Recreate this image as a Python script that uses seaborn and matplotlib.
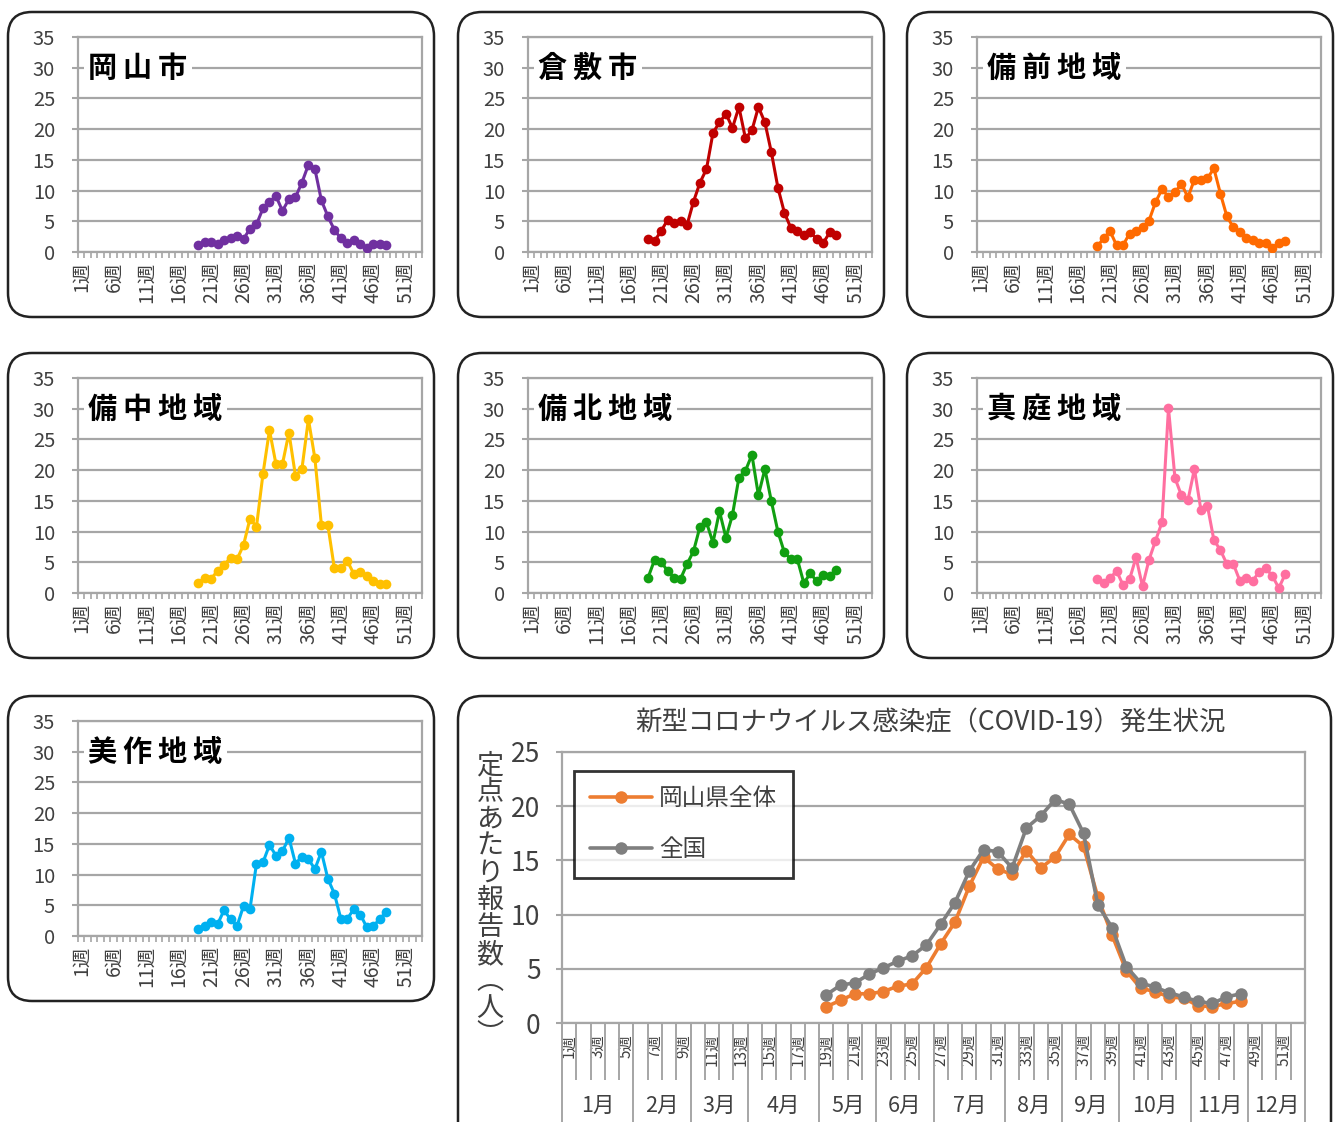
import matplotlib
matplotlib.use("Agg")
import matplotlib.pyplot as plt
from matplotlib.patches import FancyBboxPatch
import seaborn as sns
import pandas as pd
import numpy as np

# weekly values (per sentinel site), weeks 19-48
weeks = list(range(19, 49))

okayama_city = [1.1, 1.6, 1.6, 1.3, 2.0, 2.2, 2.6, 2.1, 3.8, 4.5, 7.1, 8.2, 9.1, 6.7, 8.6,
                8.9, 11.3, 14.2, 13.5, 8.4, 5.8, 3.6, 2.2, 1.5, 1.9, 1.3, 0.7, 1.3, 1.3, 1.1]
kurashiki = [2.1, 1.8, 3.4, 5.2, 4.8, 5.1, 4.4, 8.2, 11.3, 13.5, 19.4, 21.1, 22.5, 20.2, 23.6,
             18.5, 19.8, 23.6, 21.1, 16.2, 10.5, 6.4, 3.9, 3.4, 2.7, 3.2, 2.1, 1.5, 3.2, 2.8]
bizen = [0.9, 2.2, 3.4, 1.1, 1.1, 3.0, 3.4, 4.0, 5.1, 8.1, 10.2, 9.0, 9.7, 11.1, 8.9,
         11.8, 11.8, 12.0, 13.6, 9.5, 5.8, 4.0, 3.3, 2.3, 2.0, 1.5, 1.5, 0.7, 1.5, 1.8]
bicchu = [1.6, 2.5, 2.3, 3.6, 4.6, 5.7, 5.5, 7.8, 12.1, 10.8, 19.4, 26.5, 21.0, 21.0, 26.1,
          19.1, 20.2, 28.3, 21.9, 11.1, 11.0, 4.0, 4.0, 5.2, 3.1, 3.5, 2.7, 1.9, 1.5, 1.5]
bihoku = [2.5, 5.4, 5.1, 3.6, 2.5, 2.3, 4.7, 6.8, 10.8, 11.5, 8.2, 13.3, 9.0, 12.7, 18.8,
          19.9, 22.5, 15.9, 20.2, 14.9, 10.0, 6.6, 5.5, 5.5, 1.6, 3.2, 1.9, 3.0, 2.8, 3.8]
maniwa = [2.2, 1.7, 2.4, 3.6, 1.3, 2.2, 5.8, 1.1, 5.4, 8.5, 11.5, 30.1, 18.7, 15.9, 15.1,
          20.2, 13.5, 14.2, 8.6, 7.0, 4.7, 4.7, 2.0, 2.5, 2.0, 3.5, 4.0, 2.8, 0.8, 3.1]
mimasaka = [1.2, 1.7, 2.3, 1.9, 4.2, 2.7, 1.6, 4.9, 4.4, 11.8, 12.0, 14.8, 13.1, 13.8, 16.0,
            11.8, 12.9, 12.5, 10.9, 13.7, 9.3, 6.9, 2.8, 2.8, 4.4, 3.5, 1.4, 1.6, 2.8, 3.9]

pref_total = [1.5, 2.1, 2.7, 2.7, 2.9, 3.4, 3.6, 5.1, 7.3, 9.3, 12.6, 15.3, 14.2, 13.7, 15.9,
              14.3, 15.3, 17.4, 16.3, 11.6, 8.1, 4.8, 3.2, 2.9, 2.4, 2.3, 1.6, 1.5, 1.8, 2.0]
national = [2.6, 3.5, 3.7, 4.5, 5.1, 5.7, 6.2, 7.2, 9.1, 11.1, 14.0, 16.0, 15.8, 14.3, 18.0,
            19.1, 20.6, 20.2, 17.5, 10.9, 8.8, 5.2, 3.7, 3.3, 2.8, 2.4, 2.0, 1.8, 2.4, 2.7]

region_names = ["岡山市", "倉敷市", "備前地域", "備中地域", "備北地域", "真庭地域", "美作地域"]
region_values = [okayama_city, kurashiki, bizen, bicchu, bihoku, maniwa, mimasaka]
region_colors = ["#7030A0", "#C00000", "#FF6A00", "#FFC000", "#119F11", "#FF6FA0", "#00B0F0"]

month_names = ["1月", "2月", "3月", "4月", "5月", "6月", "7月", "8月", "9月", "10月", "11月", "12月"]
month_weeks = [5, 4, 4, 5, 4, 4, 5, 4, 4, 5, 4, 4]

sns.set_style("white")
plt.rcParams["font.family"] = ["Noto Sans CJK JP", "DejaVu Sans"]

W, H = 1341, 1122
fig = plt.figure(figsize=(W / 100, H / 100), dpi=100)
grid_c = "#a6a6a6"
txt_c = "#404040"

# background layer in pixel coords for the rounded panels
bg = fig.add_axes([0, 0, 1, 1], zorder=-1)
bg.set_xlim(0, W)
bg.set_ylim(H, 0)
bg.axis("off")


def panel_box(x0, y0, x1, y1, r=24):
    bg.add_patch(FancyBboxPatch((x0 + r, y0 + r), x1 - x0 - 2 * r, y1 - y0 - 2 * r,
                                boxstyle=f"round,pad={r}", fc="white", ec="#222222", lw=1.8))


def px_axes(x0, y0, x1, y1):
    return fig.add_axes([x0 / W, 1 - y1 / H, (x1 - x0) / W, (y1 - y0) / H])


col_x = [8, 458, 907]
row_y = [12, 353, 696]

for i, (name, vals, color) in enumerate(zip(region_names, region_values, region_colors)):
    px0 = col_x[i % 3]
    py0 = row_y[i // 3]
    panel_box(px0, py0, px0 + 426, py0 + 305)
    ax = px_axes(px0 + 70, py0 + 25, px0 + 414, py0 + 240)
    ax.patch.set_alpha(0)
    df = pd.DataFrame({"week": weeks, "value": vals})
    sns.lineplot(data=df, x="week", y="value", ax=ax, color=color, lw=2.2,
                 marker="o", markersize=7, markeredgewidth=0, zorder=3)
    ax.set_xlim(0.5, 53.5)
    ax.set_ylim(0, 35)
    ax.set_yticks(range(0, 36, 5))
    ax.yaxis.grid(True, color=grid_c, lw=1.6)
    ax.set_xticks(range(1, 54, 5))
    ax.set_xticklabels([f"{w}週" for w in range(1, 54, 5)], rotation=90, fontsize=14,
                       color=txt_c)
    ax.set_xticks(np.arange(0.5, 54, 1), minor=True)
    ax.tick_params(axis="x", which="major", length=0, pad=7)
    ax.tick_params(axis="x", which="minor", length=4.5, width=1.2, color=grid_c, bottom=True)
    ax.tick_params(axis="y", length=4.5, width=1.5, color=grid_c, pad=12, labelsize=14.5,
                   labelcolor=txt_c, left=True)
    for s in ax.spines.values():
        s.set_color(grid_c)
        s.set_linewidth(1.6)
    ax.set_xlabel("")
    ax.set_ylabel("")
    ax.text(0.03, 30 / 35, "\u2009".join(name), transform=ax.transAxes, ha="left",
            va="center", fontsize=21, fontweight="bold", color="black", zorder=4,
            family=["Noto Sans CJK JP", "DejaVu Sans"],
            bbox=dict(fc="white", ec="none", pad=3))

# big prefecture / national chart
panel_box(458, 696, 1331, 1160)
ax = px_axes(562, 752, 1305, 1023)
ax.patch.set_alpha(0)
big = pd.DataFrame({
    "week": weeks * 2,
    "value": pref_total + national,
    "series": ["岡山県全体"] * len(weeks) + ["全国"] * len(weeks),
})
sns.lineplot(data=big, x="week", y="value", hue="series", ax=ax,
             palette={"岡山県全体": "#ED7D31", "全国": "#7F7F7F"}, lw=2.6,
             marker="o", markersize=9, markeredgewidth=0, zorder=3)
ax.set_xlim(0.5, 52.5)
ax.set_ylim(0, 25)
ax.set_yticks(range(0, 26, 5))
ax.yaxis.grid(True, color=grid_c, lw=1.6)
ax.tick_params(axis="y", length=4.5, width=1.5, color=grid_c, pad=11, labelsize=19,
               labelcolor=txt_c, left=True)
ax.set_xticks(range(1, 53, 2))
ax.set_xticklabels([f"{w}週" for w in range(1, 53, 2)], rotation=90, fontsize=11,
                   color=txt_c)
ax.set_xticks(np.arange(0.5, 53, 1), minor=True)
ax.tick_params(axis="x", which="major", length=0, pad=8)
ax.tick_params(axis="x", which="minor", length=41, width=1.4, color=grid_c, bottom=True)
for s in ax.spines.values():
    s.set_color(grid_c)
    s.set_linewidth(1.6)
ax.set_xlabel("")
ax.set_ylabel("")

bounds = np.concatenate([[0], np.cumsum(month_weeks)]) + 0.5
centers = (bounds[:-1] + bounds[1:]) / 2
sec = ax.secondary_xaxis(0)
sec.set_xticks(bounds)
sec.set_xticklabels([""] * len(bounds))
sec.set_xticks(centers, minor=True)
sec.set_xticklabels(month_names, minor=True, fontsize=15.5, color=txt_c)
sec.tick_params(which="major", length=80, width=1.4, color=grid_c)
sec.tick_params(which="minor", length=0, pad=52)
sec.spines["bottom"].set_visible(False)

leg = ax.legend(loc="upper left", bbox_to_anchor=(0.0, 0.975), fontsize=17,
                frameon=True, fancybox=False, edgecolor="black", handlelength=2.6,
                labelspacing=1.2, borderpad=0.7, handletextpad=0.3)
leg.get_frame().set_linewidth(2)
for t in leg.get_texts():
    t.set_color(txt_c)

fig.text(930 / W, 1 - 723 / H, "新型コロナウイルス感染症（COVID-19）発生状況", ha="center",
         va="center", fontsize=19, color=txt_c)
fig.text(490 / W, 1 - 752 / H, "\n".join("定点あたり報告数︵人︶"), ha="center", va="top",
         fontsize=19.5, color=txt_c, linespacing=1.0)

fig.savefig("out.png", dpi=100)
